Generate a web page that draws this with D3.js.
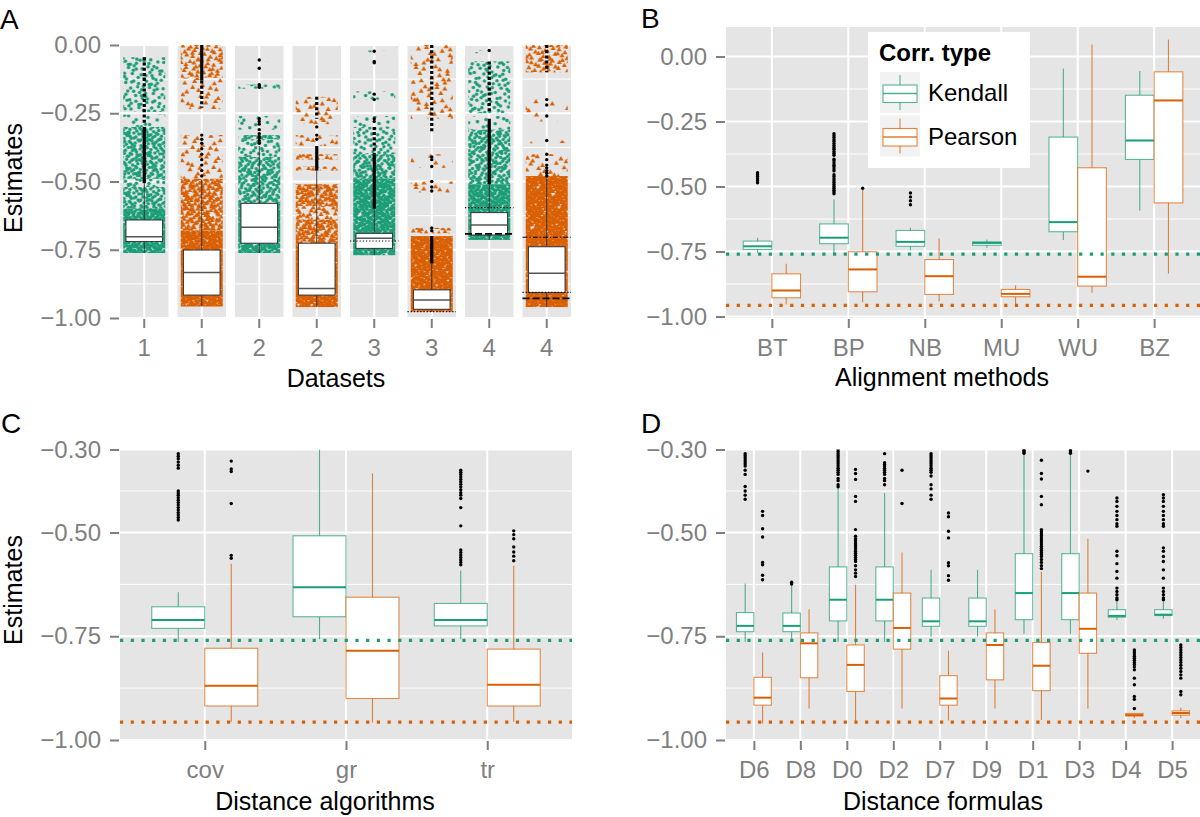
<!DOCTYPE html>
<html><head><meta charset="utf-8">
<script src="https://cdn.jsdelivr.net/npm/d3@7"></script>
<style>
body{margin:0;background:#fff}
svg text{font-family:"Liberation Sans",Arial,Helvetica,sans-serif}
</style>
</head><body>
<svg id="c" width="1200" height="817"></svg>
<script>
// ================= DATA =================
// Panel A: datasets facets
const aLabels = ["1","1","2","2","3","3","4","4"];
const aType   = ["K","P","K","P","K","P","K","P"];
// [lower whisker, Q1, median, Q3, upper whisker]
const aStats = [
  [-0.762,-0.720,-0.702,-0.641,-0.506],
  [-0.958,-0.916,-0.833,-0.751,-0.494],
  [-0.762,-0.726,-0.668,-0.580,-0.370],
  [-0.960,-0.916,-0.892,-0.726,-0.460],
  [-0.770,-0.745,-0.708,-0.690,-0.600],
  [-0.977,-0.968,-0.934,-0.897,-0.800],
  [-0.714,-0.696,-0.659,-0.614,-0.510],
  [-0.960,-0.907,-0.836,-0.739,-0.490]
];
// jittered estimate clouds: [from, to, density level 0..4]
const aBands = [
  [[-0.045,-0.245,2],[-0.255,-0.30,1],[-0.30,-0.49,3],[-0.49,-0.52,2],[-0.52,-0.60,3],[-0.60,-0.762,4]],
  [[0,-0.12,2],[-0.12,-0.235,1],[-0.33,-0.49,1],[-0.49,-0.68,3],[-0.68,-0.958,4]],
  [[-0.05,-0.06,0],[-0.145,-0.16,2],[-0.26,-0.31,1],[-0.33,-0.345,3],[-0.345,-0.41,2],[-0.41,-0.58,3],[-0.58,-0.762,4]],
  [[-0.19,-0.29,1],[-0.33,-0.37,1],[-0.40,-0.42,2],[-0.445,-0.46,2],[-0.51,-0.59,3],[-0.59,-0.64,2],[-0.64,-0.73,3],[-0.73,-0.96,4]],
  [[-0.02,-0.03,0],[-0.17,-0.20,1],[-0.26,-0.30,1],[-0.30,-0.40,2],[-0.40,-0.49,3],[-0.49,-0.77,4]],
  [[0,-0.27,1],[-0.40,-0.45,0],[-0.50,-0.54,1],[-0.67,-0.69,2],[-0.70,-0.977,4]],
  [[-0.02,-0.03,0],[-0.06,-0.25,2],[-0.26,-0.31,1],[-0.31,-0.51,3],[-0.51,-0.714,4]],
  [[0,-0.10,2],[-0.19,-0.28,0],[-0.35,-0.36,0],[-0.40,-0.48,1],[-0.48,-0.96,4]]
];
// outlier columns: [from, to, style 0=solid 1=dotted]
const aOutRanges = [
  [[-0.30,-0.506,0],[-0.045,-0.29,1]],
  [[0,-0.13,0],[-0.13,-0.23,1]],
  [],
  [[-0.19,-0.27,1],[-0.37,-0.46,0]],
  [[-0.30,-0.40,1],[-0.40,-0.60,0]],
  [[0,-0.32,1],[-0.70,-0.80,0]],
  [[-0.06,-0.25,1],[-0.27,-0.51,0]],
  [[0,-0.10,1]]
];
const aOutliers = [
  [],
  [-0.33,-0.345,-0.36,-0.38,-0.40,-0.42,-0.44,-0.46,-0.48],
  [-0.055,-0.085,-0.145,-0.15,-0.155,-0.27,-0.28,-0.29,-0.31,-0.325,-0.335,-0.34,-0.35,-0.36],
  [-0.30,-0.33,-0.345],
  [-0.023,-0.06,-0.065,-0.18,-0.20,-0.27,-0.28],
  [-0.41,-0.42,-0.445,-0.50,-0.52,-0.535,-0.67,-0.68],
  [-0.02],
  [-0.20,-0.22,-0.26,-0.35,-0.40,-0.42,-0.44,-0.45,-0.46,-0.47,-0.48]
];
// reference lines in facets: [value, style]
const aRefLines = [[],[],[],[],
  [[-0.718,"dot"]],
  [[-0.977,"dot"]],
  [[-0.596,"dot"],[-0.692,"long"]],
  [[-0.704,"dashdot"],[-0.906,"dot"],[-0.928,"long"]]
];

// Panel B: alignment methods
const bCats = ["BT","BP","NB","MU","WU","BZ"];
const bKendall = [
  [-0.755,-0.742,-0.730,-0.710,-0.697],
  [-0.758,-0.720,-0.697,-0.644,-0.550],
  [-0.745,-0.730,-0.713,-0.669,-0.659],
  [-0.736,-0.726,-0.717,-0.713,-0.704],
  [-0.706,-0.674,-0.637,-0.310,-0.046],
  [-0.592,-0.396,-0.323,-0.149,-0.056]
];
const bPearson = [
  [-0.954,-0.928,-0.900,-0.836,-0.797],
  [-0.945,-0.905,-0.819,-0.751,-0.512],
  [-0.941,-0.915,-0.845,-0.781,-0.700],
  [-0.954,-0.924,-0.913,-0.896,-0.880],
  [-0.909,-0.883,-0.847,-0.428,0.046],
  [-0.835,-0.563,-0.169,-0.059,0.065]
];
const bKOut = [
  [-0.447,-0.455,-0.462,-0.47,-0.478,-0.486],
  [-0.297,-0.305,-0.312,-0.32,-0.327,-0.335,-0.342,-0.35,-0.357,-0.365,-0.372,-0.38,-0.395,-0.402,-0.41,-0.418,-0.425,-0.433,-0.44,-0.455,-0.462,-0.47,-0.478,-0.485,-0.492,-0.5,-0.507,-0.514,-0.521,-0.528],
  [-0.525,-0.54,-0.555,-0.57],
  [],[],[]
];
const bPOut = [[],[-0.507],[],[],[],[]];

// Panel C: distance algorithms
const cCats = ["cov","gr","tr"];
const cKendall = [
  [-0.763,-0.731,-0.711,-0.679,-0.644],
  [-0.757,-0.703,-0.632,-0.508,-0.300],
  [-0.757,-0.725,-0.711,-0.671,-0.592]
];
const cPearson = [
  [-0.956,-0.918,-0.869,-0.779,-0.575],
  [-0.958,-0.900,-0.785,-0.656,-0.357],
  [-0.956,-0.918,-0.867,-0.781,-0.580]
];
const cKOut = [
  [-0.31,-0.316,-0.322,-0.33,-0.338,-0.345,-0.40,-0.405,-0.41,-0.416,-0.422,-0.428,-0.434,-0.44,-0.446,-0.452,-0.458,-0.464,-0.47],
  [],
  [-0.35,-0.355,-0.36,-0.366,-0.372,-0.378,-0.384,-0.39,-0.397,-0.404,-0.41,-0.418,-0.44,-0.484,-0.542,-0.548,-0.554,-0.56,-0.566,-0.572,-0.578]
];
const cPOut = [
  [-0.328,-0.347,-0.353,-0.43,-0.555,-0.562],
  [],
  [-0.496,-0.505,-0.515,-0.535,-0.547,-0.557,-0.568]
];

// Panel D: distance formulas
const dCats = ["D6","D8","D0","D2","D7","D9","D1","D3","D4","D5"];
const dKendall = [
  [-0.763,-0.739,-0.725,-0.693,-0.623],
  [-0.763,-0.739,-0.725,-0.694,-0.623],
  [-0.763,-0.713,-0.662,-0.583,-0.393],
  [-0.763,-0.713,-0.662,-0.583,-0.405],
  [-0.751,-0.726,-0.714,-0.658,-0.590],
  [-0.751,-0.726,-0.714,-0.658,-0.590],
  [-0.744,-0.710,-0.646,-0.551,-0.300],
  [-0.744,-0.710,-0.646,-0.551,-0.300],
  [-0.710,-0.704,-0.701,-0.686,-0.666],
  [-0.708,-0.700,-0.698,-0.686,-0.666]
];
const dPearson = [
  [-0.960,-0.916,-0.898,-0.849,-0.789],
  [-0.924,-0.850,-0.767,-0.742,-0.685],
  [-0.960,-0.883,-0.819,-0.771,-0.626],
  [-0.924,-0.781,-0.730,-0.646,-0.548],
  [-0.953,-0.916,-0.900,-0.845,-0.785],
  [-0.924,-0.855,-0.771,-0.742,-0.685],
  [-0.952,-0.881,-0.821,-0.765,-0.595],
  [-0.924,-0.791,-0.732,-0.646,-0.515],
  [-0.947,-0.942,-0.940,-0.936,-0.935],
  [-0.947,-0.940,-0.935,-0.930,-0.922]
];
const dKOut = [
  [-0.31,-0.315,-0.32,-0.325,-0.33,-0.335,-0.34,-0.35,-0.36,-0.389,-0.40,-0.41,-0.42],
  [-0.62,-0.624],
  [-0.30,-0.305,-0.31,-0.315,-0.32,-0.325,-0.33,-0.335,-0.34,-0.345,-0.35,-0.355,-0.36,-0.37,-0.375,-0.385,-0.39],
  [-0.31,-0.332,-0.336,-0.34,-0.345,-0.35,-0.355,-0.36,-0.37,-0.375,-0.385],
  [-0.31,-0.315,-0.32,-0.325,-0.33,-0.335,-0.34,-0.345,-0.35,-0.355,-0.364,-0.385,-0.395,-0.41,-0.42],
  [],
  [-0.30,-0.303,-0.306,-0.309],
  [-0.30,-0.303,-0.306,-0.309],
  [-0.417,-0.425,-0.437,-0.449,-0.459,-0.469,-0.479,-0.485,-0.545,-0.556,-0.575,-0.594,-0.61,-0.634,-0.642,-0.65,-0.658,-0.662],
  [-0.409,-0.417,-0.425,-0.437,-0.449,-0.459,-0.469,-0.479,-0.485,-0.537,-0.545,-0.558,-0.57,-0.59,-0.61,-0.634,-0.642,-0.65,-0.658,-0.662]
];
const dPOut = [
  [-0.449,-0.459,-0.491,-0.511,-0.572,-0.578,-0.603,-0.614],
  [],
  [-0.348,-0.358,-0.372,-0.413,-0.425,-0.493,-0.509,-0.515,-0.52,-0.525,-0.53,-0.535,-0.54,-0.545,-0.55,-0.555,-0.56,-0.565,-0.57,-0.58,-0.59,-0.598,-0.606],
  [-0.35,-0.43],
  [-0.453,-0.462,-0.497,-0.513,-0.573,-0.58,-0.604,-0.615],
  [],
  [-0.326,-0.358,-0.371,-0.413,-0.433,-0.493,-0.498,-0.503,-0.508,-0.513,-0.518,-0.523,-0.528,-0.533,-0.538,-0.543,-0.548,-0.553,-0.558,-0.565,-0.572,-0.58,-0.587],
  [-0.352],
  [-0.783,-0.788,-0.793,-0.798,-0.803,-0.808,-0.813,-0.818,-0.824,-0.831,-0.851,-0.867,-0.895,-0.902,-0.924],
  [-0.771,-0.777,-0.783,-0.789,-0.795,-0.801,-0.807,-0.813,-0.82,-0.827,-0.835,-0.843,-0.851,-0.883,-0.891]
];

// overall means (reference lines)
const meanKendall = -0.76;
const meanPearson = -0.957;

// ticks
const ticksAB = [0,-0.25,-0.5,-0.75,-1];
const minorAB = [-0.125,-0.375,-0.625,-0.875];
const ticksCD = [-0.3,-0.5,-0.75,-1];
const minorCD = [-0.4,-0.625,-0.875];
const legendLabels = ["Kendall","Pearson"];

// ================= DRAWING =================
const K = "#1B9E77", P = "#D95F02";
const colOf = t => t === "K" ? K : P;
const GREY = "#7F7F7F", BG = "#E5E5E5";
const svg = d3.select("#c");
const defs = svg.append("defs");
const fmt = d3.format(".2f");

function styleAxis(g){
  g.select(".domain").remove();
  g.selectAll(".tick line").attr("stroke", GREY).attr("stroke-width", 2);
  g.selectAll(".tick text").attr("fill", GREY).style("font-size","24px");
}
function hline(g, x1, x2, y, w){
  g.append("line").attr("x1",x1).attr("x2",x2).attr("y1",y).attr("y2",y)
   .attr("stroke","#fff").attr("stroke-width",w);
}
function vline(g, x, y1, y2, w){
  g.append("line").attr("x1",x).attr("x2",x).attr("y1",y1).attr("y2",y2)
   .attr("stroke","#fff").attr("stroke-width",w);
}

// texture patterns for jittered points (deterministic low-discrepancy layout)
function halton(i,b){let f=1,r=0;while(i>0){f/=b;r+=f*(i%b);i=Math.floor(i/b);}return r;}
const densities = [0.006,0.018,0.04,0.085,0.17];
function makePattern(id, x0, tw, lvl, type, seed){
  const TH = 60;
  const p = defs.append("pattern").attr("id",id).attr("patternUnits","userSpaceOnUse")
    .attr("x",x0).attr("y",0).attr("width",tw).attr("height",TH);
  const n = Math.round(densities[lvl]*tw*TH);
  const sym = d3.symbol().type(type==="K"?d3.symbolCircle:d3.symbolTriangle).size(type==="K"?9.6:11)();
  const col = colOf(type);
  for(let k=0;k<n;k++){
    const px = halton(k+seed,2)*tw, py = halton(k+seed,3)*TH;
    for(const dx of [-tw,0,tw]) for(const dy of [-TH,0,TH]){
      const qx = px+dx, qy = py+dy;
      if(qx<-3||qx>tw+3||qy<-3||qy>TH+3) continue;
      p.append("path").attr("d",sym).attr("transform",`translate(${qx.toFixed(2)},${qy.toFixed(2)})`).attr("fill",col);
    }
  }
}

// ---------- Panel A ----------
const yA = d3.scaleLinear().domain([-1,0]).range([318,45]);
const xA = d3.scaleBand().domain(d3.range(aLabels.length)).range([120,571]).paddingInner(0.1565);
const gA = svg.append("g");
const dashes = {dot:["1.2,2",1.2], long:["7,3",1.8], dashdot:["5,2,1.2,2",1.1]};
aLabels.forEach((lab,i)=>{
  const x0 = xA(i), bw = xA.bandwidth(), c = x0+bw/2, hw = Math.round(bw*0.433);
  const t = aType[i];
  const g = gA.append("g");
  g.append("rect").attr("x",x0).attr("y",yA(0)).attr("width",bw).attr("height",yA(-1)-yA(0)).attr("fill",BG);
  minorAB.forEach(v=>hline(g,x0,x0+bw,yA(v),1));
  ticksAB.forEach(v=>hline(g,x0,x0+bw,yA(v),2));
  vline(g,c,yA(0),yA(-1),2);
  // point clouds
  const used = new Set(aBands[i].map(b=>b[2]));
  used.forEach(l=>makePattern(`pA${i}_${l}`, c-hw, 2*hw, l, t, 7+i*53+l*211));
  aBands[i].forEach(b=>{
    g.append("rect").attr("x",c-hw).attr("width",2*hw)
     .attr("y",yA(b[0])).attr("height",yA(b[1])-yA(b[0]))
     .attr("fill",`url(#pA${i}_${b[2]})`);
  });
  // boxplot
  const s = aStats[i], w = bw*0.755;
  g.append("line").attr("x1",c).attr("x2",c).attr("y1",yA(s[0])).attr("y2",yA(s[1])).attr("stroke","#333").attr("stroke-width",1);
  g.append("line").attr("x1",c).attr("x2",c).attr("y1",yA(s[3])).attr("y2",yA(s[4])).attr("stroke","#333").attr("stroke-width",1);
  g.append("rect").attr("x",c-w/2).attr("width",w).attr("y",yA(s[3])).attr("height",yA(s[1])-yA(s[3]))
   .attr("fill","#fff").attr("stroke","#333").attr("stroke-width",1);
  g.append("line").attr("x1",c-w/2).attr("x2",c+w/2).attr("y1",yA(s[2])).attr("y2",yA(s[2])).attr("stroke","#555").attr("stroke-width",1.5);
  // outliers
  aOutRanges[i].forEach(r=>{
    g.append("line").attr("x1",c).attr("x2",c).attr("y1",yA(r[0])).attr("y2",yA(r[1]))
     .attr("stroke","#000").attr("stroke-width",3.2).attr("stroke-dasharray", r[2]===1?"3,2.2":null);
  });
  aOutliers[i].forEach(v=>g.append("circle").attr("cx",c).attr("cy",yA(v)).attr("r",1.7).attr("fill","#000"));
  // reference lines
  aRefLines[i].forEach(r=>{
    const d = dashes[r[1]];
    g.append("line").attr("x1",x0).attr("x2",x0+bw).attr("y1",yA(r[0])).attr("y2",yA(r[0]))
     .attr("stroke","#000").attr("stroke-width",d[1]).attr("stroke-dasharray",d[0]);
  });
});
svg.append("g").attr("transform","translate(119,0)")
  .call(d3.axisLeft(yA).tickValues(ticksAB).tickSize(9).tickPadding(9).tickFormat(fmt)).call(styleAxis);
svg.append("g").attr("transform","translate(0,319)")
  .call(d3.axisBottom(xA).tickFormat(i=>aLabels[i]).tickSize(9).tickPadding(11)).call(styleAxis);

// ---------- generic dodged boxplot panel ----------
function boxPanel(opt){
  const {cats, x, y, x0, x1, kS, pS, kO, pO, ticks, minor, yAxisX, xAxisY, id} = opt;
  const g = svg.append("g");
  const top = y.range()[1], bot = y.range()[0];
  defs.append("clipPath").attr("id",id).append("rect").attr("x",x0).attr("y",top).attr("width",x1-x0).attr("height",bot-top);
  g.append("rect").attr("x",x0).attr("y",top).attr("width",x1-x0).attr("height",bot-top).attr("fill",BG);
  minor.forEach(v=>hline(g,x0,x1,y(v),1));
  ticks.forEach(v=>hline(g,x0,x1,y(v),2));
  cats.forEach(cat=>vline(g,x(cat),top,bot,2));
  const gc = g.append("g").attr("clip-path",`url(#${id})`);
  const step = x.step(), w = step*0.375;
  cats.forEach((cat,i)=>{
    [[kS[i],kO[i],K,-1],[pS[i],pO[i],P,1]].forEach(([s,o,col,sg])=>{
      const c = x(cat)+sg*step*0.1875;
      gc.append("line").attr("x1",c).attr("x2",c).attr("y1",y(s[0])).attr("y2",y(s[1])).attr("stroke",col).attr("stroke-opacity",0.75).attr("stroke-width",1.1);
      gc.append("line").attr("x1",c).attr("x2",c).attr("y1",y(s[3])).attr("y2",y(s[4])).attr("stroke",col).attr("stroke-opacity",0.75).attr("stroke-width",1.1);
      gc.append("rect").attr("x",c-w/2).attr("width",w).attr("y",y(s[3])).attr("height",y(s[1])-y(s[3]))
        .attr("fill","#fff").attr("stroke",col).attr("stroke-opacity",0.7).attr("stroke-width",1.1);
      gc.append("line").attr("x1",c-w/2).attr("x2",c+w/2).attr("y1",y(s[2])).attr("y2",y(s[2])).attr("stroke",col).attr("stroke-width",2);
      o.forEach(v=>gc.append("circle").attr("cx",c).attr("cy",y(v)).attr("r",1.7).attr("fill","#000"));
    });
  });
  [[meanKendall,K],[meanPearson,P]].forEach(([v,col])=>{
    gc.append("line").attr("x1",x0).attr("x2",x1).attr("y1",y(v)).attr("y2",y(v))
      .attr("stroke",col).attr("stroke-width",3.2).attr("stroke-dasharray","3.2,7.5");
  });
  svg.append("g").attr("transform",`translate(${yAxisX},0)`)
    .call(d3.axisLeft(y).tickValues(ticks).tickSize(9).tickPadding(9).tickFormat(fmt)).call(styleAxis);
  svg.append("g").attr("transform",`translate(0,${xAxisY})`)
    .call(d3.axisBottom(x).tickSize(9).tickPadding(11)).call(styleAxis);
}

// Panel B
const xB = d3.scalePoint().domain(bCats).range([726,1200]).padding(0.6);
const yB = d3.scaleLinear().domain([-1.0058,0.1135]).range([318,27]);
boxPanel({cats:bCats,x:xB,y:yB,x0:726,x1:1200,kS:bKendall,pS:bPearson,kO:bKOut,pO:bPOut,
  ticks:ticksAB,minor:minorAB,yAxisX:725,xAxisY:319,id:"clipB"});
// Panel C
const xC = d3.scalePoint().domain(cCats).range([120,572]).padding(0.6);
const yC = d3.scaleLinear().domain([-1,-0.3]).range([740,449.5]);
boxPanel({cats:cCats,x:xC,y:yC,x0:120,x1:572,kS:cKendall,pS:cPearson,kO:cKOut,pO:cPOut,
  ticks:ticksCD,minor:minorCD,yAxisX:119,xAxisY:741,id:"clipC"});
// Panel D
const xD = d3.scalePoint().domain(dCats).range([726,1200]).padding(0.6);
const yD = d3.scaleLinear().domain([-1,-0.3]).range([740,449.5]);
boxPanel({cats:dCats,x:xD,y:yD,x0:726,x1:1200,kS:dKendall,pS:dPearson,kO:dKOut,pO:dPOut,
  ticks:ticksCD,minor:minorCD,yAxisX:725,xAxisY:741,id:"clipD"});

// Legend (panel B)
const lg = svg.append("g");
lg.append("rect").attr("x",868).attr("y",32).attr("width",162).attr("height",136).attr("fill","#fff");
lg.append("text").attr("x",879).attr("y",61).style("font-size","24px").style("font-weight","bold").text("Corr. type");
legendLabels.forEach((lab,i)=>{
  const oy = 72 + i*43.5, col = i===0?K:P;
  lg.append("rect").attr("x",880).attr("y",oy).attr("width",40).attr("height",41).attr("fill","#F2F2F2");
  lg.append("line").attr("x1",900).attr("x2",900).attr("y1",oy+3).attr("y2",oy+38).attr("stroke",col).attr("stroke-opacity",0.75).attr("stroke-width",1.1);
  lg.append("rect").attr("x",883).attr("y",oy+13).attr("width",34).attr("height",17.5).attr("fill","#fff").attr("stroke",col).attr("stroke-opacity",0.75).attr("stroke-width",1.1);
  lg.append("line").attr("x1",883).attr("x2",917).attr("y1",oy+21.5).attr("y2",oy+21.5).attr("stroke",col).attr("stroke-opacity",0.8).attr("stroke-width",1.5);
  lg.append("text").attr("x",928).attr("y",oy+29).style("font-size","24px").text(lab);
});

// Titles and panel letters
function txt(x,y,s,size,anchor,rot){
  const t = svg.append("text").attr("text-anchor",anchor||"start").style("font-size",size+"px").attr("fill","#000").text(s);
  if(rot) t.attr("transform",`translate(${x},${y}) rotate(-90)`); else t.attr("x",x).attr("y",y);
}
txt(22,178,"Estimates",25,"middle",true);
txt(22,590,"Estimates",25,"middle",true);
txt(336,387,"Datasets",25,"middle");
txt(942,386,"Alignment methods",25,"middle");
txt(325,810,"Distance algorithms",25,"middle");
txt(943,810,"Distance formulas",25,"middle");
txt(0,29,"A",28);
txt(641,28,"B",28);
txt(1,433,"C",28);
txt(641,433,"D",28);
</script>
</body></html>
